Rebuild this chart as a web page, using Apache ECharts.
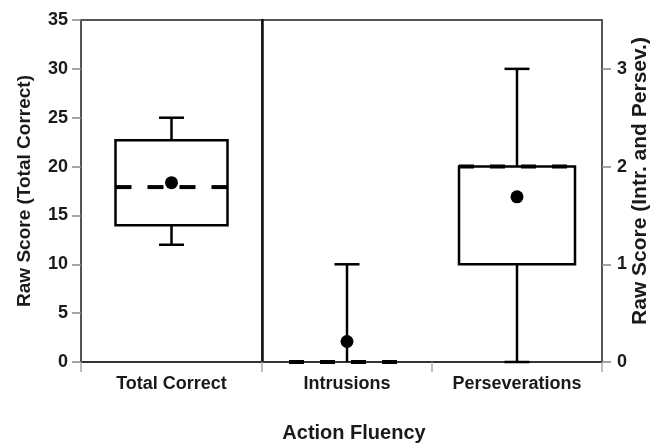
<!DOCTYPE html>
<html>
<head>
<meta charset="utf-8">
<script src="https://cdn.jsdelivr.net/npm/echarts@6/dist/echarts.min.js"></script>
<style>
  html, body { margin: 0; padding: 0; background: #fff; }
  #chart { width: 657px; height: 445px; }
</style>
</head>
<body>
<div id="chart"></div>
<script>
// ---- Data ----
const categoriesLeft = ['Total Correct'];
const categoriesRight = ['Intrusions', 'Perseverations'];

const leftMin = [12];
const leftQ1 = [14];
const leftMedian = [17.9];
const leftQ3 = [22.7];
const leftMax = [25];
const leftMean = [18.35];

const rightMin = [0, 0];
const rightQ1 = [0, 1];
const rightMedian = [0, 2];
const rightQ3 = [0, 2];
const rightMax = [1, 3];
const rightMean = [0.21, 1.69];

const leftTicks = [0, 5, 10, 15, 20, 25, 30, 35];
const rightTicks = [0, 1, 2, 3];

// ---- Build series data ----
function buildData(mins, q1s, meds, q3s, maxs, means) {
  return mins.map((m, i) => [i, m, q1s[i], meds[i], q3s[i], maxs[i], means[i]]);
}
const leftData = buildData(leftMin, leftQ1, leftMedian, leftQ3, leftMax, leftMean);
const rightData = buildData(rightMin, rightQ1, rightMedian, rightQ3, rightMax, rightMean);

const FONT = "'Liberation Sans', Arial, Helvetica, sans-serif";
const TEXT = '#1a1a1a';
const AXIS = '#555';

function makeRender(boxW, capW, dash) {
  return function (params, api) {
    const x = api.value(0);
    const pMin = api.coord([x, api.value(1)]);
    const pQ1 = api.coord([x, api.value(2)]);
    const pMed = api.coord([x, api.value(3)]);
    const pQ3 = api.coord([x, api.value(4)]);
    const pMax = api.coord([x, api.value(5)]);
    const pMean = api.coord([x, api.value(6)]);
    const cx = pMed[0];
    const lineStyle = { stroke: '#000', lineWidth: 2.5, fill: null };
    const children = [];
    if (api.value(4) > api.value(2)) {
      children.push({
        type: 'rect',
        shape: { x: cx - boxW / 2, y: pQ3[1], width: boxW, height: pQ1[1] - pQ3[1] },
        style: { stroke: '#000', lineWidth: 2.5, fill: 'rgba(0,0,0,0)' }
      });
    }
    if (api.value(5) > api.value(4)) {
      children.push({ type: 'line', shape: { x1: cx, y1: pQ3[1], x2: cx, y2: pMax[1] }, style: lineStyle });
      children.push({ type: 'line', shape: { x1: cx - capW / 2, y1: pMax[1], x2: cx + capW / 2, y2: pMax[1] }, style: lineStyle });
    }
    if (api.value(1) < api.value(2)) {
      children.push({ type: 'line', shape: { x1: cx, y1: pQ1[1], x2: cx, y2: pMin[1] }, style: lineStyle });
      children.push({ type: 'line', shape: { x1: cx - capW / 2, y1: pMin[1], x2: cx + capW / 2, y2: pMin[1] }, style: lineStyle });
    }
    children.push({
      type: 'line',
      shape: { x1: cx - boxW / 2, y1: pMed[1], x2: cx + boxW / 2, y2: pMed[1] },
      style: { stroke: '#000', lineWidth: 4, lineDash: dash, fill: null }
    });
    children.push({
      type: 'circle',
      shape: { cx: pMean[0], cy: pMean[1], r: 6.5 },
      style: { fill: '#000' }
    });
    return { type: 'group', children: children };
  };
}

const labelStyle = { color: TEXT, fontFamily: FONT, fontWeight: 'bold', fontSize: 18 };

const option = {
  animation: false,
  backgroundColor: '#fff',
  grid: [
    { left: 81, top: 20, width: 181, height: 342, show: true, borderColor: AXIS, borderWidth: 2, backgroundColor: 'transparent', outerBoundsMode: 'none', containLabel: false },
    { left: 262, top: 20, width: 340, height: 342, show: true, borderColor: AXIS, borderWidth: 2, backgroundColor: 'transparent', outerBoundsMode: 'none', containLabel: false }
  ],
  xAxis: [
    {
      type: 'category', gridIndex: 0, data: categoriesLeft, boundaryGap: true,
      axisLine: { lineStyle: { color: '#333', width: 2 } },
      axisTick: { show: true, length: 10, lineStyle: { color: '#aaa', width: 1.5 } },
      axisLabel: Object.assign({ margin: 13 }, labelStyle),
      splitLine: { show: false }
    },
    {
      type: 'category', gridIndex: 1, data: categoriesRight, boundaryGap: true,
      axisLine: { lineStyle: { color: '#333', width: 2 } },
      axisTick: { show: true, length: 10, lineStyle: { color: '#aaa', width: 1.5 } },
      axisLabel: Object.assign({ margin: 13 }, labelStyle),
      splitLine: { show: false }
    }
  ],
  yAxis: [
    {
      type: 'value', gridIndex: 0, position: 'left', min: 0, max: 35, interval: 5,
      name: 'Raw Score (Total Correct)', nameLocation: 'middle', nameGap: 47,
      nameTextStyle: { color: TEXT, fontFamily: FONT, fontWeight: 'bold', fontSize: 19 },
      axisLine: { show: true, lineStyle: { color: AXIS, width: 2 } },
      axisTick: { show: true, length: 9, lineStyle: { color: '#888', width: 1.5 } },
      axisLabel: Object.assign({ margin: 13, customValues: leftTicks }, labelStyle),
      splitLine: { show: false }
    },
    {
      type: 'value', gridIndex: 1, position: 'right', min: 0, max: 3.5, interval: 1,
      name: 'Raw Score (Intr. and Persev.)', nameLocation: 'middle', nameGap: 28, nameMoveOverlap: false,
      nameTextStyle: { color: TEXT, fontFamily: FONT, fontWeight: 'bold', fontSize: 21, padding: [0, 0, 0, 20] },
      axisLine: { show: true, lineStyle: { color: AXIS, width: 2 } },
      axisTick: { show: true, length: 9, customValues: rightTicks, lineStyle: { color: '#888', width: 1.5 } },
      axisLabel: Object.assign({ margin: 15, customValues: rightTicks }, labelStyle),
      splitLine: { show: false }
    },
    {
      type: 'value', gridIndex: 1, position: 'left', min: 0, max: 3.5,
      axisLine: { show: true, lineStyle: { color: '#111', width: 2.5 } },
      axisTick: { show: false }, axisLabel: { show: false }, splitLine: { show: false }
    }
  ],
  series: [
    {
      type: 'custom', xAxisIndex: 0, yAxisIndex: 0, clip: false,
      renderItem: makeRender(112, 25, [16, 16]),
      encode: { x: 0, y: [1, 2, 3, 4, 5, 6] },
      data: leftData, z: 5
    },
    {
      type: 'custom', xAxisIndex: 1, yAxisIndex: 1, clip: false,
      renderItem: makeRender(116, 25, [15, 16]),
      encode: { x: 0, y: [1, 2, 3, 4, 5, 6] },
      data: rightData, z: 5
    }
  ],
  graphic: [
    {
      type: 'text', x: 354, y: 433, silent: true,
      style: { text: 'Action Fluency', fill: TEXT, font: "bold 20px 'Liberation Sans', Arial, sans-serif", textAlign: 'center', textVerticalAlign: 'middle' }
    }
  ]
};

const chart = echarts.init(document.getElementById('chart'), null, { renderer: 'canvas' });
chart.setOption(option);
</script>
</body>
</html>
